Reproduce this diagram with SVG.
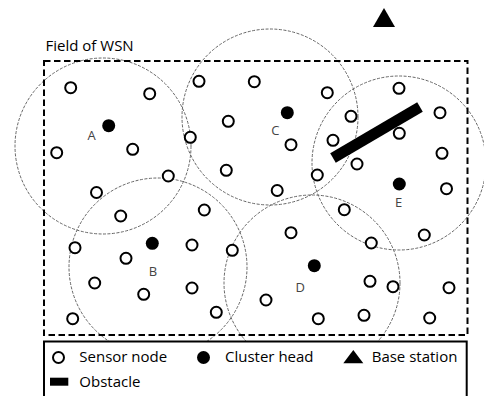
<svg xmlns="http://www.w3.org/2000/svg" width="484" height="396" viewBox="0 0 484 396">
<style>
.range{fill:none;stroke:#666;stroke-width:1;stroke-dasharray:3 1.5}
.sn{fill:#fff;stroke:#000;stroke-width:2}
.ch{fill:#000}
.lbl{font-family:"Open Sans","Liberation Sans",sans-serif;font-size:13px;fill:#444;text-anchor:middle}
.txt{font-family:"Open Sans","Liberation Sans",sans-serif;font-size:15px;fill:#000}
</style>
<defs>
<circle id="s" r="5.5" class="sn"/>
<circle id="h" r="6.5" class="ch"/>
</defs>
<rect width="484" height="396" fill="#fff"/>
<g id="connectors">
<circle class="range" cx="103" cy="146" r="88"/>
<circle class="range" cx="270" cy="117" r="88"/>
<circle class="range" cx="399" cy="163" r="87"/>
<circle class="range" cx="158" cy="267" r="89"/>
<circle class="range" cx="312" cy="283" r="88"/>
</g>
<g id="field">
<rect x="44" y="61" width="423.5" height="274" fill="none" stroke="#000" stroke-width="2" stroke-dasharray="6.5 3.5"/>
<text class="txt" x="45.5" y="51">Field of WSN</text>
</g>
<g id="base-station"><polygon points="373,27 395,27 384,8" fill="#000"/></g>
<g id="sensors">
<use href="#s" x="70.7" y="87.7"/><use href="#s" x="149.7" y="93.7"/><use href="#s" x="199" y="81.3"/>
<use href="#s" x="228.3" y="121.3"/><use href="#s" x="190.3" y="137.3"/><use href="#s" x="132.7" y="149.3"/>
<use href="#s" x="56.7" y="152.7"/><use href="#s" x="226.3" y="170.3"/><use href="#s" x="168.3" y="176"/>
<use href="#s" x="96.5" y="192.5"/>
<use href="#s" x="254.3" y="81.7"/><use href="#s" x="327.3" y="92.7"/><use href="#s" x="399" y="88.3"/>
<use href="#s" x="351" y="116.3"/><use href="#s" x="440" y="112.7"/><use href="#s" x="399.3" y="133.3"/>
<use href="#s" x="291" y="144.7"/><use href="#s" x="333" y="140.3"/><use href="#s" x="442" y="153.3"/>
<use href="#s" x="357" y="164"/><use href="#s" x="317.3" y="175"/><use href="#s" x="446.5" y="188.7"/>
<use href="#s" x="277.2" y="190.5"/>
<use href="#s" x="120.7" y="216"/><use href="#s" x="204.3" y="210"/><use href="#s" x="75" y="247.7"/>
<use href="#s" x="126" y="258.3"/><use href="#s" x="192" y="245"/><use href="#s" x="232.3" y="250.3"/>
<use href="#s" x="94.7" y="283"/><use href="#s" x="143.7" y="294.3"/><use href="#s" x="192" y="288"/>
<use href="#s" x="216.3" y="312.3"/><use href="#s" x="72.7" y="318.7"/>
<use href="#s" x="344.3" y="209.7"/><use href="#s" x="291" y="232.7"/><use href="#s" x="424.3" y="235"/>
<use href="#s" x="371.3" y="243"/><use href="#s" x="370" y="281.3"/><use href="#s" x="393" y="286.7"/>
<use href="#s" x="449" y="287.7"/><use href="#s" x="266" y="300"/><use href="#s" x="318.3" y="318.7"/>
<use href="#s" x="364" y="315.3"/><use href="#s" x="429.7" y="318"/>
</g>
<g id="cluster-A"><use href="#h" x="108.7" y="125.7"/><text class="lbl" x="91.7" y="139.5">A</text></g>
<g id="cluster-B"><use href="#h" x="152.3" y="243.3"/><text class="lbl" x="153" y="276">B</text></g>
<g id="cluster-C"><use href="#h" x="287.3" y="112.7"/><text class="lbl" x="275.3" y="135">C</text></g>
<g id="cluster-D"><use href="#h" x="314.3" y="265.7"/><text class="lbl" x="300.3" y="292">D</text></g>
<g id="cluster-E"><use href="#h" x="399.3" y="184"/><text class="lbl" x="398.7" y="207.3">E</text></g>
<g id="obstacle"><line x1="333" y1="158" x2="420" y2="107" stroke="#000" stroke-width="11"/></g>
<g id="legend">
<rect x="44" y="341.5" width="422.7" height="60" fill="#fff" stroke="#000" stroke-width="2"/>
<use href="#s" x="58.5" y="357.5"/>
<text class="txt" x="79.3" y="361.5">Sensor node</text>
<use href="#h" x="203.5" y="357.5"/>
<text class="txt" x="225" y="361.5">Cluster head</text>
<polygon points="343.3,363.3 363.3,363.3 353.3,350" fill="#000"/>
<text class="txt" x="371.7" y="361.5">Base station</text>
<rect x="50" y="377.7" width="18.3" height="8" fill="#000"/>
<text class="txt" x="79.3" y="386.7">Obstacle</text>
</g>
</svg>
